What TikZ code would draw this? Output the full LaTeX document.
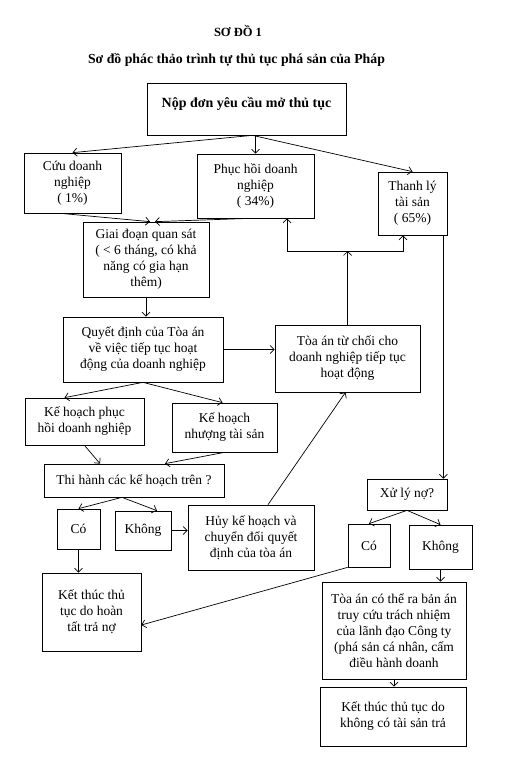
\documentclass[tikz,border=0pt]{standalone}
\usepackage{fontspec}
\setmainfont{Liberation Serif}
\usetikzlibrary{arrows.meta}
\newcommand\boxfont{\fontsize{13.5}{16}\selectfont}
\tikzset{
	flowbox/.style={draw, line width=0.7pt, align=center, inner sep=1pt, font=\boxfont},
	flowline/.style={line width=0.7pt, -{Straight Barb[length=4pt,width=8pt]}},
	plainline/.style={line width=0.7pt}
}

\begin{document}
\begin{tikzpicture}[x=1pt,y=-1pt]
		\useasboundingbox (0,0) rectangle (508,763);
		\node[font=\fontsize{12.5}{14}\selectfont\bfseries] (title) at (238,31) {SƠ ĐỒ 1};
		\node[font=\fontsize{13.8}{15}\selectfont\bfseries] (subtitle) at (236.5,60)
		{Sơ đồ phác thảo trình tự thủ tục phá sản của Pháp};
		% hang 1
		\node[flowbox,font=\fontsize{14}{16}\selectfont\bfseries,text depth=13pt,minimum width=199,minimum height=52] (nop) at (246.5,109)
		{Nộp đơn yêu cầu mở thủ tục};
		\node[flowbox,minimum width=97,minimum height=60] (cuu) at (72.5,183) {Cứu doanh\\nghiệp\\( 1\%)};
		\node[flowbox,minimum width=117,minimum height=64] (phuchoi) at (255.5,186) {Phục hồi doanh\\nghiệp\\( 34\%)};
		\node[flowbox,minimum width=69,minimum height=63] (thanhly) at (412.5,203.5) {Thanh lý\\tài sản\\( 65\%)};
		% giai doan quan sat
		\node[flowbox,minimum width=126,minimum height=75] (quansat) at (146,259.5)
		{Giai đoạn quan sát\\( < 6 tháng, có khả\\năng có gia hạn\\thêm)};
		\node[flowbox,minimum width=160,minimum height=65] (quyetdinh) at (143,349.5)
		{Quyết định của Tòa án\\về việc tiếp tục hoạt\\động của doanh nghiệp};
		\node[flowbox,minimum width=145,minimum height=67] (tuchoi) at (347.5,358.5)
		{Tòa án từ chối cho\\doanh nghiệp tiếp tục\\hoạt động};
		\node[flowbox,minimum width=119,minimum height=47] (khphuchoi) at (84.5,421.5) {Kế hoạch phục\\hồi doanh nghiệp};
		\node[flowbox,minimum width=105,minimum height=49] (khnhuong) at (224.5,427.5) {Kế hoạch\\nhượng tài sản};
		\node[flowbox,minimum width=180,minimum height=33] (thihanh) at (134,480.5) {Thi hành các kế hoạch trên ?};
		\node[flowbox,minimum width=43,minimum height=40] (coA) at (78.5,529) {Có};
		\node[flowbox,minimum width=56,minimum height=39] (khongA) at (143,530.5) {Không};
		\node[flowbox,minimum width=126,minimum height=65] (huy) at (251,537.5)
		{Hủy kế hoạch và\\chuyển đổi quyết\\định của tòa án};
		\node[flowbox,minimum width=99,minimum height=78] (ketthucA) at (91.5,612)
		{Kết thúc thủ\\tục do hoàn\\tất trả nợ};
		% nhanh thanh ly
		\node[flowbox,minimum width=80,minimum height=31] (xuly) at (407,494.5) {Xử lý nợ?};
		\node[flowbox,minimum width=42,minimum height=43] (coB) at (369,545.5) {Có};
		\node[flowbox,minimum width=63,minimum height=44] (khongB) at (440.5,547) {Không};
		\node[flowbox,minimum width=144,minimum height=97] (truycuu) at (394,630.5)
		{Tòa án có thể ra bản án\\truy cứu trách nhiệm\\của lãnh đạo Công ty\\(phá sản cá nhân, cấm\\điều hành doanh};
		\node[flowbox,minimum width=146,minimum height=59] (ketthucB) at (393,716.5)
		{Kết thúc thủ tục do\\không có tài sản trả};
		\coordinate (nga) at (347.5,251);

		\draw[flowline] ([xshift=6pt]nop.south) -- (cuu.north);
		\draw[flowline] (nop.south -| phuchoi.north) -- (phuchoi.north);
		\draw[flowline] ([xshift=6pt]nop.south) -- (thanhly.north);
		\draw[flowline] ([xshift=-12pt]cuu.south) -- ([xshift=4pt]quansat.north);
		\draw[flowline] ([xshift=-5pt]phuchoi.south) -- ([xshift=9pt]quansat.north);
		\draw[flowline] (tuchoi.north) -- (nga);
		\draw[flowline] (nga) -| ([xshift=31.5pt]phuchoi.south);
		\draw[flowline] (nga) -| ([xshift=-9.5pt]thanhly.south);
		\draw[flowline] (quansat.south) -- (quansat.south |- quyetdinh.north);
		\draw[flowline] (quyetdinh.east) -- (quyetdinh.east -| tuchoi.west);
		\draw[flowline] (quyetdinh.south) -- ([xshift=-20pt]khphuchoi.north);
		\draw[flowline] (quyetdinh.south) -- ([xshift=-2pt]khnhuong.north);
		\draw[flowline] (khphuchoi.south) -- ([xshift=-34pt]thihanh.north);
		\draw[flowline] (khnhuong.south) -- ([xshift=31pt]thihanh.north);
		\draw[flowline] ([xshift=-12pt]thihanh.south) -- (coA.north);
		\draw[flowline] ([xshift=-12pt]thihanh.south) -- ([xshift=14pt]khongA.north);
		\draw[flowline] (khongA.east) -- (khongA.east -| huy.west);
		\draw[flowline] ([xshift=17pt]huy.north) -- ([xshift=-2pt]tuchoi.south);
		\draw[flowline] (coA.south) -- (coA.south |- ketthucA.north);
		\draw[flowline] (coB.south west) -- ([yshift=-13pt]ketthucA.east);
		\draw[flowline] ([xshift=-4pt]thanhly.south east) -- ([xshift=-4pt]thanhly.south east |- xuly.north);
		\draw[flowline] (xuly.south) -- (coB.north);
		\draw[flowline] (xuly.south) -- (khongB.north);
		\draw[flowline] (khongB.south) -- (khongB.south |- truycuu.north);
		\draw[flowline] (truycuu.south) -- (truycuu.south |- ketthucB.north);
\end{tikzpicture}
\end{document}
